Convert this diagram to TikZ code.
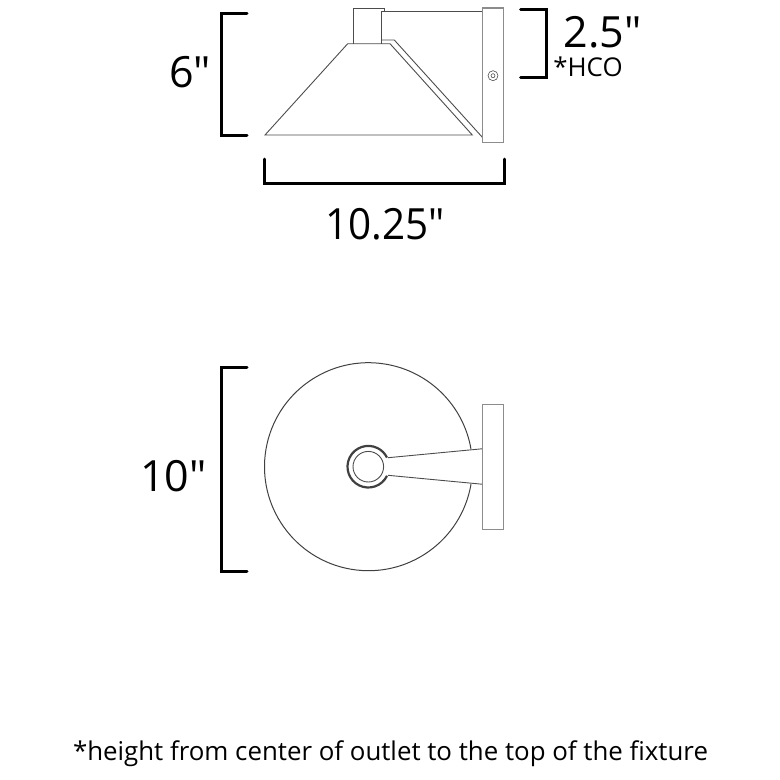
\documentclass[tikz,border=0pt]{standalone}
\usepackage{fontspec}
\setmainfont[Ligatures=TeXOff]{Open Sans}
\usetikzlibrary{positioning}

\begin{document}
\begin{tikzpicture}
[x=1pt, y=-1pt, line join=miter,
part/.style={draw=black!70, line width=0.9pt},
panel/.style={draw=black!45, line width=1.1pt, fill=white},
bracket/.style={draw=black, line width=3pt, line cap=round},
size/.style={inner sep=0pt, anchor=base, font=\fontsize{43}{43}\selectfont},
small/.style={inner sep=0pt, anchor=base, font=\fontsize{25.85}{26}\selectfont}]

\useasboundingbox (0,0) rectangle (780,780);

% side view
\draw[part] (353,43.7) -- (353,8) -- (384.3,8) -- (384.3,11);
\draw[part] (381,43.7) -- (381,11) -- (483,11);
\draw[part] (381,40) -- (394.3,40) -- (483,138);
\draw[part] (265,135) -- (347.7,43.7) -- (390,43.7) -- (472.3,135) -- cycle;
\node[panel, minimum width=20.6pt, minimum height=134.7pt, inner sep=0pt] (sidepanel) at (493,75.3) {};
\node[part, line width=0.6pt, circle, minimum size=10pt, inner sep=0pt] (screw) at (493,75.7) {};
\node[part, line width=0.6pt, circle, minimum size=4pt, inner sep=0pt] (screw2) at (493,75.7) {};

% front view
\draw[draw=black!75, line width=1pt] (368.5,466.7) ++(9.7:104) arc (9.7:350.3:104);
\draw[part] (388,457.7) -- (483,448.7);
\draw[part] (388,475.3) -- (483,484.3);
\draw[draw=black!75, line width=2.2pt] (368.3,466.7) ++(26:20.8) arc (26:334:20.8);
\node[part, circle, minimum size=30.6pt, inner sep=0pt] (collar) at (368.3,466.7) {};
\node[panel, minimum width=20.6pt, minimum height=125.3pt, inner sep=0pt] (frontpanel) at (493,466.7) {};

% dimensions
\draw[bracket] (247,13.7) -- (221,13.7) -- (221,135) -- (247,135);
\draw[bracket] (520.7,9.3) -- (546.7,9.3) -- (546.7,77) -- (520.7,77);
\draw[bracket] (264.7,159) -- (264.7,183) -- (504,183) -- (504,159);
\draw[bracket] (247,367) -- (221,367) -- (221,571) -- (247,571);

\node[size] (sixin) at (190,87) {6"};
\node[size] (twohalf) at (602.5,47) {2.5"};
\node[small] (hco) at (588,76) {*HCO};
\node[size, xscale=0.94] (width) at (385,239) {10.25"};
\node[size] (tenin) at (173.5,491) {10"};
\node[small] (note) at (390.5,760) {*height from center of outlet to the top of the fixture};
\end{tikzpicture}
\end{document}
